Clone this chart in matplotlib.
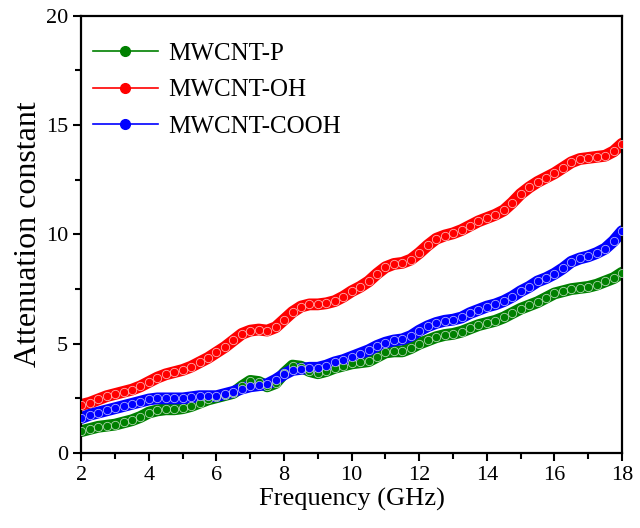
import numpy as np
import matplotlib.pyplot as plt
from matplotlib.ticker import MultipleLocator

plt.rcParams['font.family'] = ['Liberation Serif', 'DejaVu Serif']

freq = np.arange(2, 18.01, 0.25)

mwcnt_p = [1.0, 1.1, 1.2, 1.25, 1.3, 1.4, 1.5, 1.65, 1.85, 1.95, 2.0, 2.0, 2.05,
           2.15, 2.3, 2.45, 2.55, 2.65, 2.75, 3.05, 3.3, 3.25, 3.05, 3.2, 3.65,
           4.0, 3.95, 3.75, 3.65, 3.75, 3.9, 4.0, 4.1, 4.15, 4.2, 4.4, 4.6, 4.65,
           4.65, 4.8, 5.0, 5.15, 5.3, 5.4, 5.45, 5.55, 5.7, 5.85, 5.95, 6.05, 6.2,
           6.4, 6.6, 6.75, 6.9, 7.1, 7.3, 7.4, 7.5, 7.55, 7.6, 7.7, 7.85, 8.0, 8.25]

mwcnt_oh = [2.2, 2.3, 2.45, 2.6, 2.7, 2.8, 2.9, 3.05, 3.25, 3.45, 3.6, 3.7, 3.8,
            3.95, 4.15, 4.35, 4.6, 4.85, 5.15, 5.45, 5.6, 5.65, 5.6, 5.75, 6.1,
            6.45, 6.7, 6.8, 6.8, 6.85, 6.95, 7.15, 7.4, 7.6, 7.85, 8.2, 8.5, 8.65,
            8.7, 8.85, 9.15, 9.5, 9.8, 9.95, 10.05, 10.2, 10.4, 10.6, 10.75, 10.9,
            11.1, 11.45, 11.85, 12.15, 12.4, 12.6, 12.8, 13.05, 13.3, 13.45, 13.5,
            13.55, 13.6, 13.8, 14.15]

mwcnt_cooh = [1.6, 1.75, 1.85, 1.95, 2.05, 2.15, 2.25, 2.35, 2.45, 2.5, 2.5, 2.5,
              2.5, 2.55, 2.6, 2.6, 2.6, 2.7, 2.8, 2.95, 3.05, 3.1, 3.15, 3.35, 3.6,
              3.8, 3.85, 3.9, 3.9, 4.0, 4.15, 4.25, 4.4, 4.55, 4.7, 4.9, 5.05, 5.15,
              5.2, 5.35, 5.6, 5.8, 5.95, 6.05, 6.1, 6.2, 6.4, 6.55, 6.7, 6.8, 6.95,
              7.15, 7.4, 7.6, 7.85, 8.0, 8.2, 8.45, 8.75, 8.9, 9.0, 9.15, 9.35, 9.7,
              10.15]

series = [('MWCNT-P', mwcnt_p, '#008000'),
          ('MWCNT-OH', mwcnt_oh, '#ff0000'),
          ('MWCNT-COOH', mwcnt_cooh, '#0000ff')]

fig = plt.figure(figsize=(6.4, 5.28), dpi=100)
ax = fig.add_axes([0.127, 0.142, 0.845, 0.828])

for name, vals, c in series:
    ax.plot(freq, vals, '-', color=c, lw=8.5, solid_capstyle='round', zorder=2)
    ax.plot(freq, vals, 'o', color=c, ms=6, mec='#ffffffaa', mew=0.6, zorder=3)
    # legend proxy
    ax.plot([], [], '-o', color=c, lw=1.2, ms=7, mec=c, label=name)

ax.set_xlim(2, 18)
ax.set_ylim(0, 20)
ax.xaxis.set_major_locator(MultipleLocator(2))
ax.xaxis.set_minor_locator(MultipleLocator(1))
ax.yaxis.set_major_locator(MultipleLocator(5))
ax.yaxis.set_minor_locator(MultipleLocator(2.5))
ax.tick_params(which='both', direction='out', width=1.5, labelsize=16,
               top=False, right=False)
ax.tick_params(which='major', length=6)
ax.tick_params(which='minor', length=4)
for s in ax.spines.values():
    s.set_linewidth(1.6)

ax.set_xlabel('Frequency (GHz)', fontsize=19, labelpad=2)
ax.set_ylabel('Attenuation constant', fontsize=23, labelpad=2)

ax.legend(loc='upper left', bbox_to_anchor=(-0.02, 0.99), frameon=False,
          fontsize=18, handlelength=2.6, handletextpad=0.4, labelspacing=0.55)

fig.savefig('out.png', dpi=100)
